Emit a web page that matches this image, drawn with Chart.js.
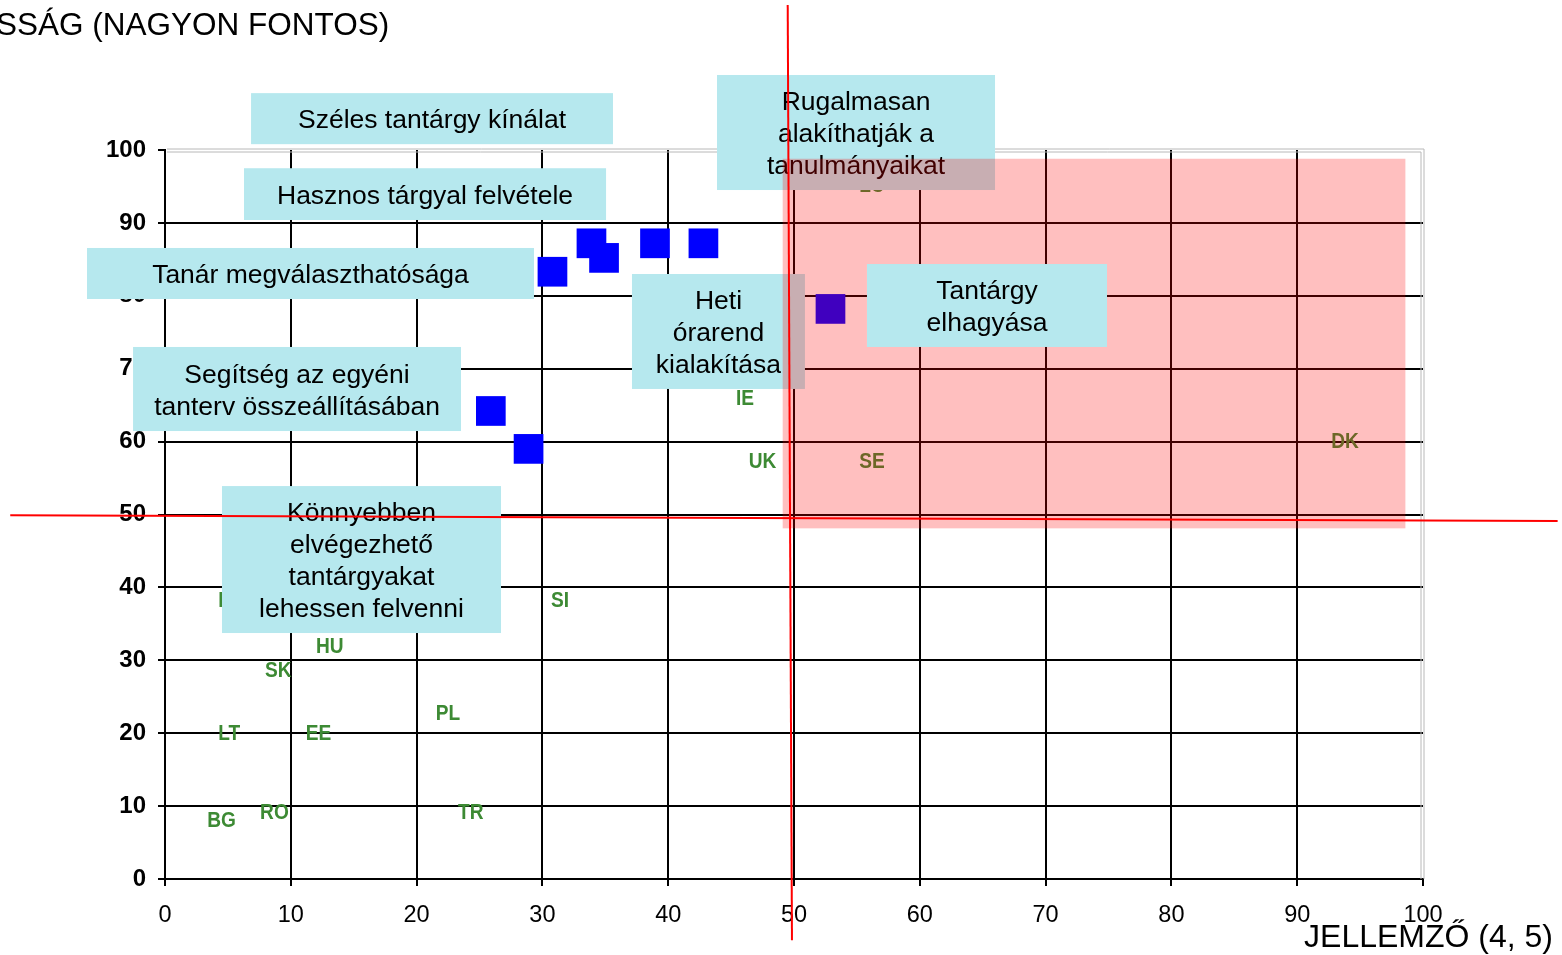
<!DOCTYPE html>
<html>
<head>
<meta charset="utf-8">
<script src="https://cdn.jsdelivr.net/npm/chart.js@4"></script>
<style>
html,body{margin:0;padding:0;background:#fff;}
canvas{display:block;}
</style>
</head>
<body>
<canvas id="c" width="1562" height="955"></canvas>
<script>
// ---- data ----
const xTicks = [0,10,20,30,40,50,60,70,80,90,100];
const yTicks = [0,10,20,30,40,50,60,70,80,90,100];
const featureX = [33.9, 38.95, 42.8, 30.8, 34.9, 25.9, 28.9];
const featureY = [87.2, 87.2, 87.2, 83.3, 85.2, 64.2, 59.0];
const highlightX = [52.9];
const highlightY = [78.2];
const countryNames = ["FI","HU","SK","LT","EE","PL","BG","RO","TR","SI","IE","UK","SE","DK","LU"];
const countryX = [4.9, 13.1, 9.0, 5.1, 12.2, 22.5, 4.5, 8.7, 24.3, 31.4, 46.1, 47.5, 56.2, 93.8, 56.2];
const countryY = [38.3, 32.0, 28.7, 20.0, 20.0, 22.8, 8.1, 9.2, 9.2, 38.3, 66.0, 57.3, 57.3, 60.1, 95.2];
const yTitle = "SSÁG (NAGYON FONTOS)";
const xTitle = "JELLEMZŐ (4, 5)";
// annotation boxes: [x1, x2, y1 (top), y2 (bottom)] in data units, and text lines
const boxTexts = [
  ["Széles tantárgy kínálat"],
  ["Hasznos tárgyal felvétele"],
  ["Tanár megválaszthatósága"],
  ["Segítség az egyéni","tanterv összeállításában"],
  ["Könnyebben","elvégezhető","tantárgyakat","lehessen felvenni"],
  ["Heti","órarend","kialakítása"],
  ["Rugalmasan","alakíthatják a","tanulmányaikat"],
  ["Tantárgy","elhagyása"]
];
const boxRanges = [
  [6.84, 35.61, 107.8, 100.8],
  [6.28, 35.06, 97.5, 90.4],
  [-6.2, 29.33, 86.56, 79.56],
  [-2.54, 23.53, 72.98, 61.45],
  [4.53, 26.71, 53.9, 33.74],
  [37.12, 50.87, 82.99, 67.22],
  [43.88, 65.98, 110.29, 94.51],
  [55.8, 74.88, 84.36, 72.98]
];
const zoneRange = [49.1, 98.6, 98.8, 48.1];
const hLine = [[-12.3, 49.9], [110.7, 49.1]];
const vLine = [[49.5, 119.9], [49.84, -8.4]];

const toPts = (xs, ys) => xs.map((x, i) => ({x: x, y: ys[i]}));
const FONT = '"Liberation Sans", Arial, sans-serif';

const overlay = {
  id: 'overlay',
  afterDatasetsDraw(chart) {
    const ctx = chart.ctx, xs = chart.scales.x, ys = chart.scales.y;
    const ca = chart.chartArea;
    // gray top/right border
    ctx.save();
    ctx.strokeStyle = '#b8b8b8';
    ctx.lineWidth = 1;
    [0, 3].forEach(dx => {
      ctx.beginPath();
      ctx.moveTo(ca.left + 2, ca.top - 1 + dx);
      ctx.lineTo(ca.right - dx + 1, ca.top - 1 + dx);
      ctx.lineTo(ca.right - dx + 1, ca.bottom);
      ctx.stroke();
    });
    ctx.restore();
    // country labels
    ctx.save();
    ctx.fillStyle = '#3d8a34';
    ctx.font = 'bold 22.5px ' + FONT;
    ctx.textAlign = 'center';
    ctx.textBaseline = 'middle';
    countryNames.forEach((n, i) => {
      const px = xs.getPixelForValue(countryX[i]);
      const py = ys.getPixelForValue(countryY[i]);
      ctx.save();
      ctx.translate(px, py);
      ctx.scale(0.85, 1);
      ctx.fillText(n, 0, 1);
      ctx.restore();
    });
    ctx.restore();
  },
  afterDraw(chart) {
    const ctx = chart.ctx, xs = chart.scales.x, ys = chart.scales.y;
    const drawBox = (i) => {
      const r = boxRanges[i];
      const x1 = xs.getPixelForValue(r[0]), x2 = xs.getPixelForValue(r[1]);
      const y1 = ys.getPixelForValue(r[2]), y2 = ys.getPixelForValue(r[3]);
      ctx.fillStyle = '#b6e8ee';
      ctx.fillRect(x1, y1, x2 - x1, y2 - y1);
      const lines = boxTexts[i];
      const lh = 32;
      const cx = (x1 + x2) / 2, cy = (y1 + y2) / 2;
      ctx.fillStyle = '#000';
      ctx.font = '26.5px ' + FONT;
      ctx.textAlign = 'center';
      ctx.textBaseline = 'middle';
      lines.forEach((t, k) => {
        ctx.fillText(t, cx, cy + (k - (lines.length - 1) / 2) * lh + 2.5);
      });
    };
    ctx.save();
    for (let i = 0; i < 7; i++) drawBox(i);
    // translucent zone
    const zx1 = xs.getPixelForValue(zoneRange[0]), zx2 = xs.getPixelForValue(zoneRange[1]);
    const zy1 = ys.getPixelForValue(zoneRange[2]), zy2 = ys.getPixelForValue(zoneRange[3]);
    ctx.fillStyle = 'rgba(255,0,0,0.25)';
    ctx.fillRect(zx1, zy1, zx2 - zx1, zy2 - zy1);
    drawBox(7);
    // red lines
    ctx.strokeStyle = '#ff0000';
    ctx.lineWidth = 2;
    [hLine, vLine].forEach(l => {
      ctx.beginPath();
      ctx.moveTo(xs.getPixelForValue(l[0][0]), ys.getPixelForValue(l[0][1]));
      ctx.lineTo(xs.getPixelForValue(l[1][0]), ys.getPixelForValue(l[1][1]));
      ctx.stroke();
    });
    // titles
    ctx.fillStyle = '#000';
    ctx.font = '31.5px ' + FONT;
    ctx.textBaseline = 'middle';
    ctx.textAlign = 'left';
    ctx.fillText(yTitle, -4, 26);
    ctx.font = '32px ' + FONT;
    ctx.textAlign = 'right';
    ctx.fillText(xTitle, 1553, 938);
    ctx.restore();
  }
};

new Chart(document.getElementById('c'), {
  type: 'scatter',
  data: {
    datasets: [
      { label: 'features', data: toPts(featureX, featureY), pointStyle: 'rect',
        pointRadius: 21, pointHoverRadius: 21, backgroundColor: '#0000ff', borderColor: '#0000ff', borderWidth: 0 },
      { label: 'highlight', data: toPts(highlightX, highlightY), pointStyle: 'rect',
        pointRadius: 21, pointHoverRadius: 21, backgroundColor: '#0000ff', borderColor: '#0000ff', borderWidth: 0 }
    ]
  },
  options: {
    responsive: false,
    animation: false,
    events: [],
    layout: { padding: { left: 0, top: 150, right: 139, bottom: 16 } },
    plugins: { legend: { display: false }, tooltip: { enabled: false } },
    scales: {
      x: {
        type: 'linear', min: 0, max: 100,
        afterBuildTicks: s => { s.ticks = xTicks.map(v => ({value: v})); },
        afterFit: s => { s.height = 60; },
        ticks: { color: '#000', padding: 15, font: { size: 23.5, family: FONT } },
        grid: { color: c => (c.tick && (c.tick.value === 100 || c.tick.value === 0)) ? 'rgba(0,0,0,0)' : '#000',
                lineWidth: 2, tickColor: '#000', tickLength: 7, tickWidth: 2 },
        border: { color: '#000', width: 2 }
      },
      y: {
        type: 'linear', min: 0, max: 100,
        afterBuildTicks: s => { s.ticks = yTicks.map(v => ({value: v})); },
        afterFit: s => { s.width = 165; },
        ticks: { color: '#000', padding: 12, font: { size: 24, weight: 'bold', family: FONT } },
        grid: { color: c => (c.tick && (c.tick.value === 100 || c.tick.value === 0)) ? 'rgba(0,0,0,0)' : '#000',
                lineWidth: 2, tickColor: '#000', tickLength: 7, tickWidth: 2 },
        border: { color: '#000', width: 2 }
      }
    }
  },
  plugins: [overlay]
});
</script>
</body>
</html>
